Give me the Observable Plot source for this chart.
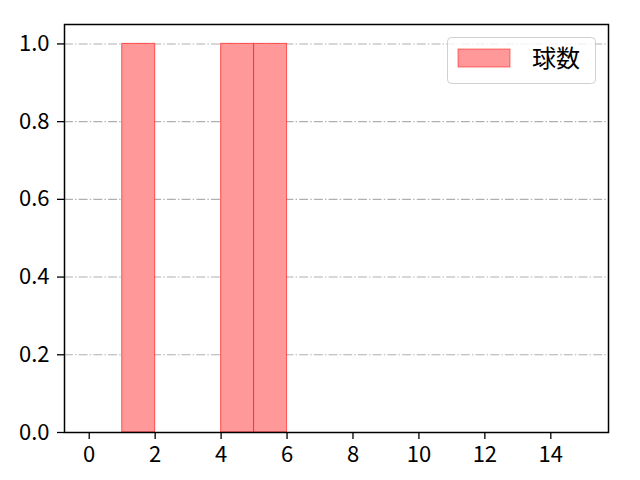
<!DOCTYPE html>
<html><head><meta charset="utf-8">
<script src="https://cdn.jsdelivr.net/npm/d3@7"></script>
<script src="https://cdn.jsdelivr.net/npm/@observablehq/plot@0.6"></script>
<style>body{margin:0;background:#fff;} svg{display:block;}</style>
</head><body>
<div id="chart"></div>
<script>
const binLo = [1, 4, 5];
const binHi = [2, 5, 6];
const counts = [1, 1, 1];
const xTicks = [0, 2, 4, 6, 8, 10, 12, 14];
const yTicks = [0, 0.2, 0.4, 0.6, 0.8, 1.0];
const gridTicks = [0.2, 0.4, 0.6, 0.8, 1.0];
const seriesName = "球数";

const bars = binLo.map((lo, i) => ({lo, hi: binHi[i], n: counts[i]}));
const font = "'Noto Sans CJK JP', 'DejaVu Sans', sans-serif";

const plot = Plot.plot({
  width: 640, height: 480,
  marginLeft: 64, marginRight: 32, marginTop: 24, marginBottom: 48,
  style: {fontFamily: font, fontSize: "22px", color: "#000", background: "#fff"},
  x: {domain: [-0.75, 15.75], label: null},
  y: {domain: [0, 1.05], label: null},
  marks: [
    Plot.ruleY(gridTicks, {stroke: "#b0b0b0", strokeWidth: 1.1, strokeDasharray: "8.9,2.2,1.4,2.2"}),
    Plot.rectY(bars, {x1: "lo", x2: "hi", y1: 0, y2: "n", fill: "#ff9999", stroke: "#ff0000", strokeOpacity: 0.55, strokeWidth: 1.1, inset: 0}),
    Plot.axisX({ticks: xTicks, tickSize: 7, tickPadding: 7, tickFormat: d => String(d), label: null, strokeWidth: 1.3}),
    Plot.axisY({ticks: yTicks, tickSize: 7, tickPadding: 8, tickFormat: d3.format(".1f"), label: null, strokeWidth: 1.3}),
    Plot.frame({stroke: "#000", strokeWidth: 1.5})
  ]
});
document.getElementById("chart").appendChild(plot);
d3.select(plot).selectAll("text").attr("font-size", 22);

// legend
const svg = d3.select(plot);
const g = svg.append("g").attr("font-family", font).attr("text-anchor", "start");
g.append("rect").attr("x", 447.5).attr("y", 37.5).attr("width", 148).attr("height", 46).attr("rx", 4)
  .attr("fill", "#fff").attr("fill-opacity", 0.8).attr("stroke", "#d0d0d0");
g.append("rect").attr("x", 458).attr("y", 49).attr("width", 52).attr("height", 18)
  .attr("fill", "#ff9999").attr("stroke", "#ff0000").attr("stroke-opacity", 0.45).attr("stroke-width", 1.1);
g.append("text").attr("x", 532).attr("y", 67).attr("font-size", 24).attr("fill", "#000").text(seriesName);
</script>
</body></html>
